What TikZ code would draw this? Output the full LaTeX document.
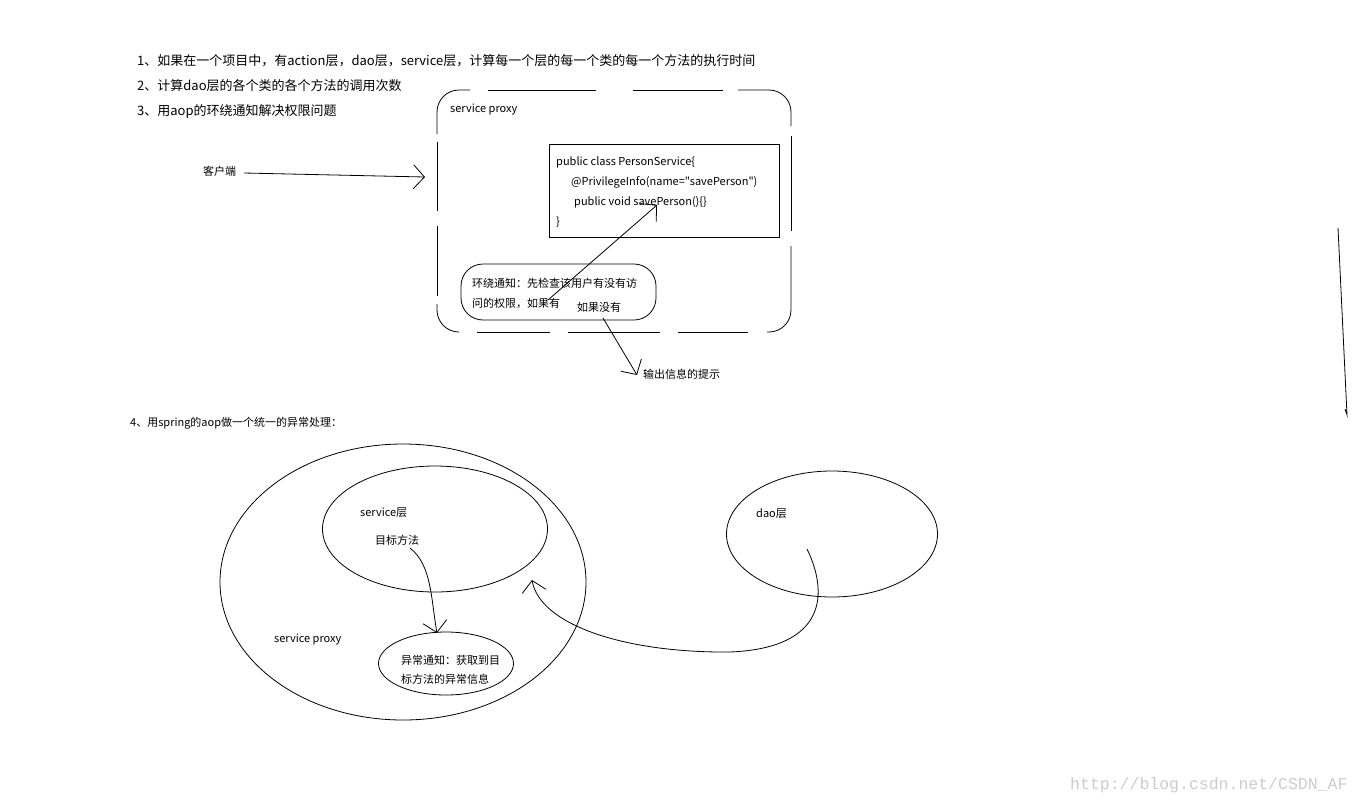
\documentclass[tikz,border=0pt]{standalone}
\usepackage{fontspec}
\newfontfamily\cjk{Noto Sans CJK SC}
\newfontfamily\wm{Liberation Mono}
\usetikzlibrary{arrows.meta,shapes.geometric}
\begin{document}
\begin{tikzpicture}[x=1pt,y=-1pt,
  txt/.style={anchor=west,inner sep=0pt,font=\cjk\fontsize{13}{15}\selectfont},
  sm/.style={anchor=west,inner sep=0pt,font=\cjk\fontsize{11}{13}\selectfont},
  barb/.style={-{Straight Barb[length=11pt,width=24pt]}, line width=0.8pt},
  ln/.style={line width=0.8pt},
  ell/.style={draw, ellipse, line width=0.8pt, inner sep=0pt}]
\useasboundingbox[fill=white] (0,0) rectangle (1360,804);

% top text
\node[txt] (t1) at (137,61) {1、如果在一个项目中，有action层，dao层，service层，计算每一个层的每一个类的每一个方法的执行时间};
\node[txt] (t2) at (137,86) {2、计算dao层的各个类的各个方法的调用次数};
\node[txt] (t3) at (137,111) {3、用aop的环绕通知解决权限问题};

% proxy box (hand-dashed rounded outline)
\node[minimum width=354pt, minimum height=242pt, inner sep=0pt] (proxy) at (614,211) {};
\begin{scope}[ln, rounded corners=22pt]
  \draw (437,134) -- (437,90) -- (470,90);
  \draw (488,90) -- (596,90);
  \draw (633,90) -- (723,90);
  \draw (738,90) -- (791,90) -- (791,126);
  \draw (791,136) -- (791,231);
  \draw (791,246) -- (791,332) -- (767,332);
  \draw (748,332) -- (678,332);
  \draw (660,332) -- (568,332);
  \draw (550,332) -- (477,332);
  \draw (458,332) -- (437,332) -- (437,304);
  \draw (437,296) -- (437,226);
  \draw (437,211) -- (437,142);
\end{scope}
\node[sm] (proxylbl) at (450,110) {service proxy};

% code box
\node[draw, ln, minimum width=230pt, minimum height=93pt] (code) at (664,190.5) {};
\node[sm] (c1) at (556,162) {public class PersonService\{};
\node[sm] (c2) at (571,182) {@PrivilegeInfo(name=\char34 savePerson\char34)};
\node[sm] (c3) at (574,202) {public void savePerson()\{\}};
\node[sm] (c4) at (556,222) {\}};

% advice box
\node[draw, ln, rounded corners=22pt, minimum width=195pt, minimum height=56pt] (adv) at (558.5,292) {};
\node[sm] (a1) at (472,283) {环绕通知：先检查该用户有没有访};
\node[sm] (a2) at (472,303) {问的权限，如果有};
\node[sm] (a3) at (577,307) {如果没有};
\node[sm] (out) at (643,374) {输出信息的提示};
\node[sm] (client) at (203,171) {客户端};

% arrows top
\coordinate (cs) at (244,173);
\coordinate (ce) at (425,177);
\draw[barb] (cs) -- (ce);
\coordinate (p1) at (548,300);
\coordinate (p1t) at (657,205);
\draw[barb] (p1) -- (p1t);
\coordinate (p2) at (603,318);
\coordinate (p2t) at (637,375);
\draw[barb] (p2) -- (p2t);

% right vertical stroke
\coordinate (v1) at (1338,228);
\coordinate (v2) at (1347,415);
\draw[ln] (v1) -- (v2) -- (1345,409);

% section 4
\node[sm] (t4) at (130,423) {4、用spring的aop做一个统一的异常处理：};

\node[ell, minimum width=366pt, minimum height=276pt] (big) at (403,582) {};
\node[ell, minimum width=225pt, minimum height=126pt] (svc) at (435,529) {};
\node[ell, minimum width=135pt, minimum height=63pt] (exc) at (446,663.5) {};
\node[ell, minimum width=211pt, minimum height=126pt] (dao) at (832,534) {};

\node[sm] (svclbl) at (360,513) {service层};
\node[sm] (tm) at (375,540) {目标方法};
\node[sm] (bplbl) at (274,640) {service proxy};
\node[sm] (e1) at (401,660) {异常通知：获取到目};
\node[sm] (e2) at (401,679) {标方法的异常信息};
\node[sm] (daolbl) at (756,514) {dao层};

\coordinate (m1) at (410,548);
\coordinate (m2) at (437,633);
\draw[barb] (m1) .. controls (432,565) and (431,600) .. (m2);

\coordinate (d1) at (807,549);
\coordinate (d2) at (730,652);
\coordinate (d3) at (532,580);
\draw[barb] (d1) .. controls (828,592) and (828,648) .. (d2) .. controls (625,653) and (540,625) .. (d3);

% watermark
\node[anchor=west, inner sep=0pt, font=\wm\fontsize{16.5}{18}\selectfont, text=black!20] (wmk) at (1070,785) {http://blog.csdn.net/CSDN\_AF};
\end{tikzpicture}
\end{document}
